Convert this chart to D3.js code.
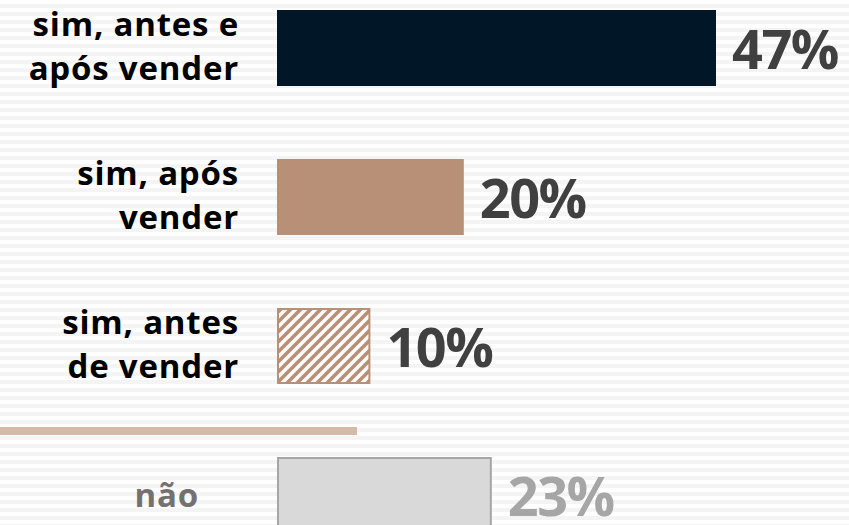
<!DOCTYPE html>
<html>
<head>
<meta charset="utf-8">
<script src="https://cdn.jsdelivr.net/npm/d3@7"></script>
<style>
  html, body { margin: 0; padding: 0; background: #fff; }
  svg { display: block; }
</style>
</head>
<body>
<svg id="chart" width="849" height="525"></svg>
<script>
// Categories (label lines) and their shares, in %
const categories = ["antes_apos", "apos", "antes", "nao"];
const labelLines = [
  ["sim, antes e", "após vender"],
  ["sim, após", "vender"],
  ["sim, antes", "de vender"],
  ["não"]
];
const values = [47, 20, 10, 23];
const valueLabels = ["47%", "20%", "10%", "23%"];

const W = 849, H = 525;
const svg = d3.select("#chart");
const defs = svg.append("defs");

// striped background
const bg = defs.append("pattern")
  .attr("id", "bgStripes").attr("patternUnits", "userSpaceOnUse")
  .attr("width", 8).attr("height", 8);
bg.append("rect").attr("width", 8).attr("height", 8).attr("fill", "#ffffff");
bg.append("rect").attr("y", 4).attr("width", 8).attr("height", 4).attr("fill", "#f4f4f4");
svg.append("rect").attr("width", W).attr("height", H).attr("fill", "url(#bgStripes)");

// upward diagonal hatch
const hatch = defs.append("pattern")
  .attr("id", "hatch").attr("patternUnits", "userSpaceOnUse")
  .attr("width", 10).attr("height", 10);
hatch.append("rect").attr("width", 10).attr("height", 10).attr("fill", "#ffffff");
hatch.append("path")
  .attr("d", "M-3,3 L3,-3 M0,10 L10,0 M7,13 L13,7")
  .attr("stroke", "#b88f77").attr("stroke-width", 3.6);

const x = d3.scaleLinear().domain([0, 47]).range([277, 716]);
const y = d3.scaleBand().domain(categories).range([10, 533])
  .paddingInner(73 / 149).paddingOuter(0);

const fills = ["#011627", "#b88f77", "url(#hatch)", "#d9d9d9"];
const strokes = ["none", "none", "#b88f77", "#a6a6a6"];
const labelColors = ["#000000", "#000000", "#000000", "#767171"];
const valueColors = ["#404040", "#404040", "#404040", "#a6a6a6"];

const rows = categories.map((c, i) => ({
  c, v: values[i], lines: labelLines[i], vl: valueLabels[i],
  fill: fills[i], stroke: strokes[i], lc: labelColors[i], vc: valueColors[i]
}));

// separator between "sim" answers and "não"
svg.append("rect")
  .attr("x", 0).attr("width", 357)
  .attr("y", y("antes") + y.bandwidth() + 43).attr("height", 8)
  .attr("fill", "#d5b9ab");

const g = svg.append("g");

g.selectAll("rect.bar").data(rows).join("rect")
  .attr("class", "bar")
  .attr("x", d => x(0) + (d.stroke !== "none" ? 1 : 0))
  .attr("y", d => y(d.c) + (d.stroke !== "none" ? 1 : 0))
  .attr("width", d => x(d.v) - x(0) - (d.stroke !== "none" ? 2 : 0))
  .attr("height", d => y.bandwidth() - (d.stroke !== "none" ? 2 : 0))
  .attr("fill", d => d.fill)
  .attr("stroke", d => d.stroke)
  .attr("stroke-width", 2);

// value labels
g.selectAll("text.val").data(rows).join("text")
  .attr("class", "val")
  .attr("x", d => x(d.v) + 16)
  .attr("y", d => y(d.c) + y.bandwidth() / 2 + 21)
  .attr("fill", d => d.vc)
  .attr("font-family", "'Open Sans', sans-serif")
  .attr("font-weight", 700)
  .attr("font-size", 54)
  .attr("letter-spacing", -1.5)
  .text(d => d.vl);

// category labels
const lab = g.selectAll("text.lab").data(rows).join("text")
  .attr("class", "lab")
  .attr("text-anchor", "end")
  .attr("fill", d => d.lc)
  .attr("font-family", "'Open Sans', sans-serif")
  .attr("font-weight", 700)
  .attr("font-size", 33)
  .attr("letter-spacing", 0.8)
  .attr("y", d => y(d.c) + y.bandwidth() / 2 + (d.lines.length > 1 ? -12 : 12));

lab.each(function(d) {
  const t = d3.select(this);
  const xr = d.lines.length > 1 ? 239 : 199;
  d.lines.forEach((line, j) => {
    t.append("tspan").attr("x", xr).attr("dy", j === 0 ? 0 : 44).text(line);
  });
});
</script>
</body>
</html>
